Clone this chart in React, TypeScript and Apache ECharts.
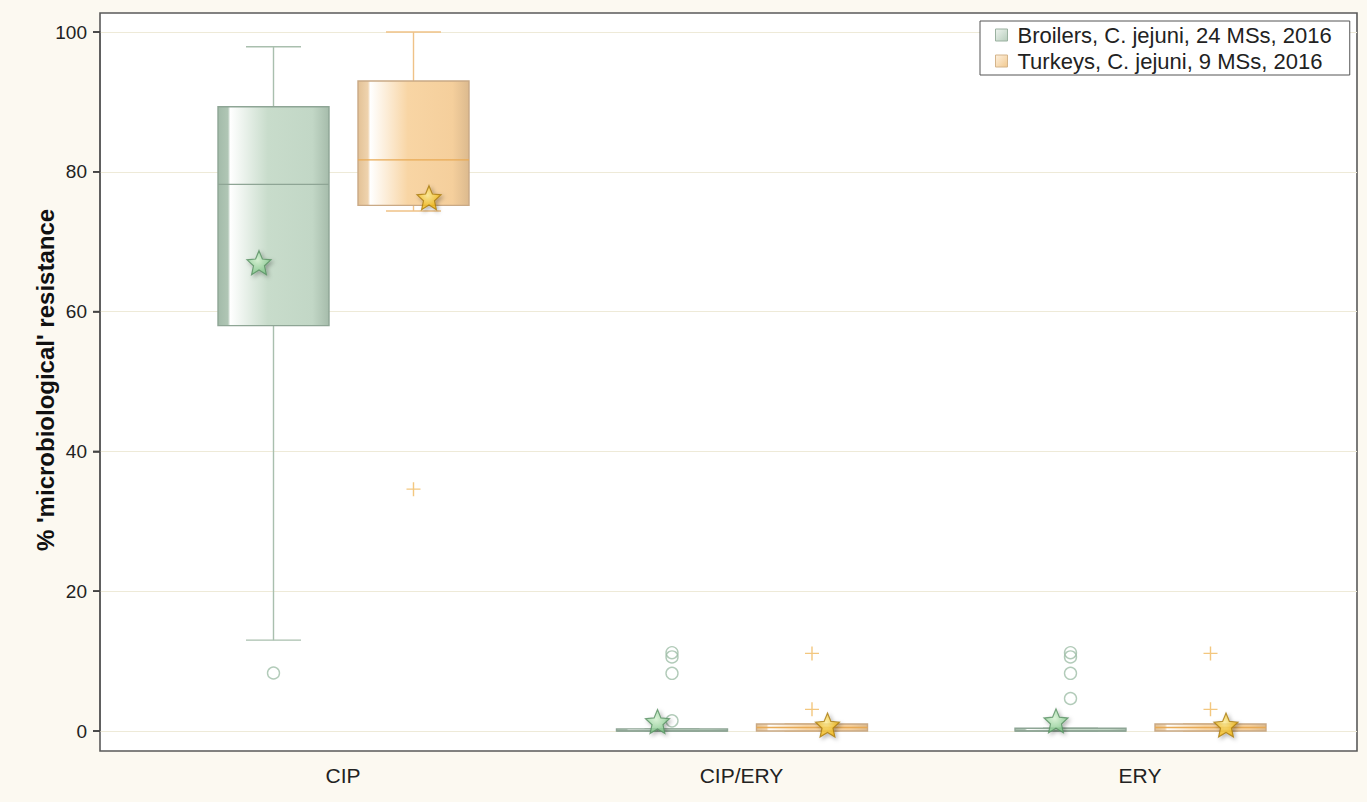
import React, { useEffect, useRef } from 'react';
import * as echarts from 'echarts';

// ---------- data ----------
const categories = ['CIP', 'CIP/ERY', 'ERY'];
const seriesNames = ['Broilers, C. jejuni, 24 MSs, 2016', 'Turkeys, C. jejuni, 9 MSs, 2016'];
// each box: [lower whisker, Q1, median, Q3, upper whisker]
const broilerBoxes = [
  [13.0, 58.0, 78.2, 89.3, 97.9],
  [0, 0, 0, 0.3, 0.3],
  [0, 0, 0, 0.4, 0.4],
];
const turkeyBoxes = [
  [74.4, 75.2, 81.7, 93.0, 100],
  [0, 0, 0.5, 1.0, 1.0],
  [0, 0, 0.5, 1.0, 1.0],
];
const broilerOutliers = [[8.3], [11.2, 10.6, 8.25, 1.45], [11.2, 10.6, 8.25, 4.65]];
const turkeyOutliers = [[34.6], [11.1, 3.1], [11.1, 3.1]];
const broilerMeans = [67.0, 1.35, 1.45];
const turkeyMeans = [76.3, 0.85, 0.85];
const yTicks = [0, 20, 40, 60, 80, 100];
const yTitle = "% 'microbiological' resistance";

// ---------- layout ----------
const W = 1367;
const H = 802;
const frameLeft = 100;
const frameRight = 1357;
const frameTop = 13;
const frameBottom = 751;
const firstCenter = 343;
const lastCenter = 1140;
const catSpacing = (lastCenter - firstCenter) / (categories.length - 1);
const gridTop = 32; // y of 100
const gridBottomY = 731; // y of 0
const boxHalf = 55.5;
const capHalf = 27.5;
const broilerDx = -69.5;
const turkeyDx = 70.5;
const broilerStarDx = -84;
const turkeyStarDx = 86;
const tickLen = 7;

const broilerPal = {
  whisker: '#a9bfae',
  border: '#8ea595',
  median: '#8ea595',
  stops: [
    [0, '#a3bba9'],
    [0.09, '#b0c6b5'],
    [0.11, '#ffffff'],
    [0.45, '#c8dccb'],
    [0.85, '#c2d7c6'],
    [1, '#a6bcab'],
  ],
};
const turkeyPal = {
  whisker: '#efc287',
  border: '#c9a985',
  median: '#e8aa55',
  stops: [
    [0, '#e3c296'],
    [0.09, '#efd3ae'],
    [0.11, '#ffffff'],
    [0.45, '#f8d5a4'],
    [0.85, '#f5cf9c'],
    [1, '#dcba8e'],
  ],
};

const starPath = (() => {
  const pts: string[] = [];
  for (let k = 0; k < 10; k++) {
    const r = k % 2 === 0 ? 10 : 4.6;
    const a = -Math.PI / 2 + (k * Math.PI) / 5;
    pts.push(`${(10 + r * Math.cos(a)).toFixed(2)},${(10 + r * Math.sin(a)).toFixed(2)}`);
  }
  return 'path://M' + pts.join('L') + 'Z';
})();
const plusPath =
  'path://M-0.6,-6H0.6V-0.6H6V0.6H0.6V6H-0.6V0.6H-6V-0.6H-0.6Z';

function boxSeries(name: string, boxes: number[][], dx: number, pal: any) {
  return {
    type: 'custom',
    name,
    z: 3,
    data: boxes.map((b, i) => [i, ...b]),
    encode: { x: 0, y: [1, 2, 3, 4, 5] },
    renderItem: (_params: any, api: any) => {
      const x = api.value(0);
      const ys = [1, 2, 3, 4, 5].map((d) => api.coord([x, api.value(d)])[1]);
      const [yLo, yQ1, yMed, yQ3, yHi] = ys;
      const cx = api.coord([x, 0])[0] + dx;
      const ws = { stroke: pal.whisker, lineWidth: 1.4 };
      const grad = new echarts.graphic.LinearGradient(
        0,
        0,
        1,
        0,
        pal.stops.map((s: any) => ({ offset: s[0], color: s[1] }))
      );
      return {
        type: 'group',
        children: [
          { type: 'line', shape: { x1: cx, y1: yHi, x2: cx, y2: yQ3 }, style: ws },
          { type: 'line', shape: { x1: cx - capHalf, y1: yHi, x2: cx + capHalf, y2: yHi }, style: ws },
          { type: 'line', shape: { x1: cx, y1: yQ1, x2: cx, y2: yLo }, style: ws },
          { type: 'line', shape: { x1: cx - capHalf, y1: yLo, x2: cx + capHalf, y2: yLo }, style: ws },
          {
            type: 'rect',
            shape: { x: cx - boxHalf, y: yQ3, width: boxHalf * 2, height: Math.max(yQ1 - yQ3, 2) },
            style: { fill: grad, stroke: pal.border, lineWidth: 1.4 },
          },
          {
            type: 'line',
            shape: { x1: cx - boxHalf, y1: yMed, x2: cx + boxHalf, y2: yMed },
            style: { stroke: pal.median, lineWidth: 1.4 },
          },
        ],
      };
    },
  };
}

function flattenOutliers(list: number[][]) {
  const out: number[][] = [];
  list.forEach((vals, i) => vals.forEach((v) => out.push([i, v])));
  return out;
}

export default function App() {
  const ref = useRef<HTMLDivElement>(null);
  useEffect(() => {
    if (!ref.current) return;
    const chart = echarts.init(ref.current, undefined, { renderer: 'svg' });
    const xMin = -(firstCenter - frameLeft) / catSpacing;
    const xMax = categories.length - 1 + (frameRight - lastCenter) / catSpacing;
    const font = "'Liberation Sans', Arial, sans-serif";
    const starStyle = (c0: string, c1: string, border: string) => ({
      color: new echarts.graphic.RadialGradient(0.45, 0.4, 0.6, [
        { offset: 0, color: c0 },
        { offset: 1, color: c1 },
      ]),
      borderColor: border,
      borderWidth: 1.2,
      shadowBlur: 4,
      shadowColor: 'rgba(0,0,0,0.35)',
      shadowOffsetX: 2,
      shadowOffsetY: 2,
    });
    const baseGraphic: any[] = [
      {
        id: 'frame',
        type: 'rect',
        z: -10,
        shape: { x: frameLeft, y: frameTop, width: frameRight - frameLeft, height: frameBottom - frameTop },
        style: { fill: '#ffffff', stroke: '#5a5a5a', lineWidth: 1.6 },
      },
      {
        id: 'ytitle',
        type: 'text',
        x: 45,
        y: 380,
        rotation: Math.PI / 2,
        style: {
          text: yTitle,
          font: `bold 24px ${font}`,
          fill: '#111',
          align: 'center',
          verticalAlign: 'middle',
        },
      },
    ];
    chart.setOption({
      animation: false,
      backgroundColor: '#fcf9f1',
      textStyle: { fontFamily: font },
      grid: {
        left: frameLeft,
        right: W - frameRight,
        top: gridTop,
        bottom: H - gridBottomY,
      },
      graphic: baseGraphic,
      legend: {
        orient: 'vertical',
        left: 980,
        top: 21,
        selectedMode: false,
        icon: 'rect',
        itemWidth: 12,
        itemHeight: 12,
        itemGap: 4,
        padding: [3, 18, 3, 15],
        borderColor: '#555',
        borderWidth: 1,
        backgroundColor: '#ffffff',
        textStyle: { fontSize: 22, color: '#222', fontFamily: font, lineHeight: 22, padding: [0, 0, 0, 5] },
        data: [
          {
            name: seriesNames[0],
            itemStyle: {
              color: new echarts.graphic.LinearGradient(0, 0, 1, 1, [
                { offset: 0, color: '#eef4ef' },
                { offset: 1, color: '#b7cdbc' },
              ]),
              borderColor: '#9ab1a0',
              borderWidth: 1,
            },
          },
          {
            name: seriesNames[1],
            itemStyle: {
              color: new echarts.graphic.LinearGradient(0, 0, 1, 1, [
                { offset: 0, color: '#fdf1e0' },
                { offset: 1, color: '#f2c98f' },
              ]),
              borderColor: '#d4b48a',
              borderWidth: 1,
            },
          },
        ],
      },
      xAxis: {
        type: 'value',
        min: xMin,
        max: xMax,
        axisLine: { show: false, onZero: false },
        axisTick: { show: false },
        splitLine: { show: false },
        axisLabel: {
          customValues: categories.map((_, i) => i),
          formatter: (v: number) => categories[Math.round(v)] ?? '',
          fontSize: 21,
          color: '#222',
          margin: 34,
          showMinLabel: true,
          showMaxLabel: true,
        },
      },
      yAxis: {
        type: 'value',
        min: yTicks[0],
        max: yTicks[yTicks.length - 1],
        interval: yTicks[1] - yTicks[0],
        axisLine: { show: true, onZero: false, lineStyle: { color: '#5a5a5a', width: 1.6 } },
        axisTick: { show: true, inside: false, length: tickLen, lineStyle: { color: '#444', width: 1.6 } },
        axisLabel: { fontSize: 19, color: '#222', margin: 13 },
        splitLine: { show: true, lineStyle: { color: '#eeead8', width: 1.2 } },
      },
      series: [
        boxSeries(seriesNames[0], broilerBoxes, broilerDx, broilerPal),
        boxSeries(seriesNames[1], turkeyBoxes, turkeyDx, turkeyPal),
        {
          type: 'scatter',
          name: seriesNames[0],
          z: 4,
          symbol: 'circle',
          symbolSize: 12,
          symbolOffset: [broilerDx, 0],
          data: flattenOutliers(broilerOutliers),
          itemStyle: { color: 'rgba(0,0,0,0)', borderColor: '#9fbea7', borderWidth: 1.4 },
        },
        {
          type: 'scatter',
          name: seriesNames[1],
          z: 4,
          symbol: plusPath,
          symbolSize: 14,
          symbolOffset: [turkeyDx, 0],
          data: flattenOutliers(turkeyOutliers),
          itemStyle: { color: '#f0b95f' },
        },
        {
          type: 'scatter',
          name: seriesNames[0],
          z: 6,
          symbol: starPath,
          symbolSize: 24,
          symbolOffset: [broilerStarDx, 0],
          data: broilerMeans.map((v, i) => [i, v]),
          itemStyle: starStyle('#d8f6d4', '#7cc686', '#588f62'),
        },
        {
          type: 'scatter',
          name: seriesNames[1],
          z: 6,
          symbol: starPath,
          symbolSize: 24,
          symbolOffset: [turkeyStarDx, 0],
          data: turkeyMeans.map((v, i) => [i, v]),
          itemStyle: starStyle('#fff09a', '#f2b000', '#a87a12'),
        },
      ],
    });
    // explicit tick marks placed through the y axis scale
    const tickLines = yTicks.map((v, i) => {
      const py = chart.convertToPixel({ yAxisIndex: 0 }, v) as number;
      return {
        id: 'ytick' + i,
        type: 'line',
        z: 50,
        shape: { x1: frameLeft - tickLen, y1: py, x2: frameLeft, y2: py },
        style: { stroke: '#444', lineWidth: 1.6 },
      };
    });
    chart.setOption({ graphic: [...baseGraphic, ...tickLines] });
    return () => chart.dispose();
  }, []);
  return (
    <div
      ref={ref}
      style={{ position: 'fixed', left: 0, top: 0, width: W, height: H }}
    />
  );
}
